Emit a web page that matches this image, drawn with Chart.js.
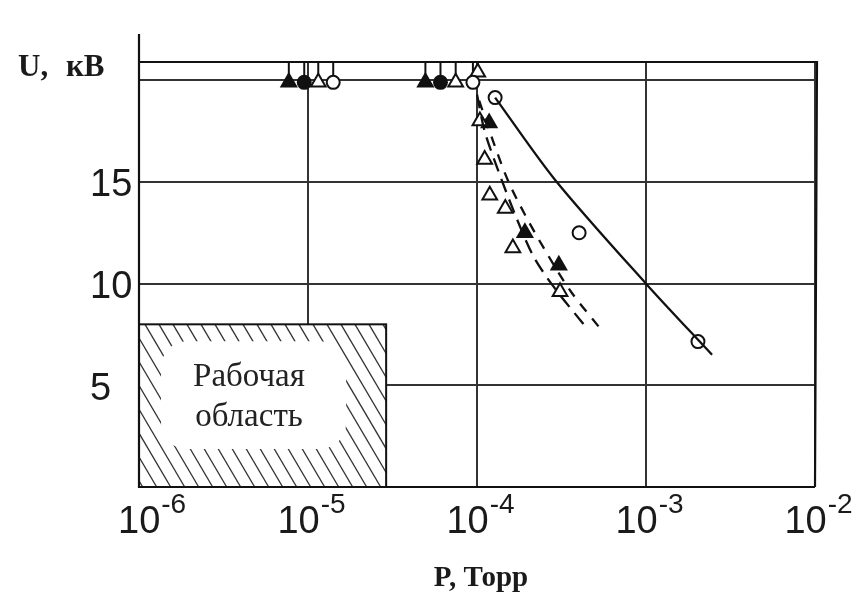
<!DOCTYPE html>
<html>
<head>
<meta charset="utf-8">
<script src="https://cdn.jsdelivr.net/npm/chart.js@4/dist/chart.umd.min.js"></script>
<style>
  html, body { margin: 0; padding: 0; background: #fff; }
  canvas { display: block; }
</style>
</head>
<body>
<canvas id="myChart" width="867" height="595"></canvas>
<script>
// breakdown voltage U (kV) against pressure P (Torr), four electrode sets
const filledTriangles = [[7.7e-6, 19.9], [4.95e-5, 19.9], [1.18e-4, 17.9], [1.92e-4, 12.5], [3.05e-4, 10.9]];
const filledCircles = [[9.5e-6, 19.9], [6.08e-5, 19.9]];
const openTriangles = [[1.15e-5, 19.9], [7.48e-5, 19.9], [1.01e-4, 20.4], [1.04e-4, 18.0], [1.11e-4, 16.1],
  [1.19e-4, 14.35], [1.47e-4, 13.7], [1.63e-4, 11.75], [3.1e-4, 9.6]];
const openCircles = [[1.41e-5, 19.9], [9.46e-5, 19.9], [1.28e-4, 19.15], [4.02e-4, 12.5], [2.03e-3, 7.15]];

// fitted curves
const solidCurve = [[1.28e-4, 19.15], [2.9e-4, 15.1], [1.0e-3, 10.0], [2.46e-3, 6.5]];
const dashedLeft = [[1.0e-4, 19.3], [1.11e-4, 17.5], [1.33e-4, 15.6], [1.68e-4, 13.4], [2.14e-4, 11.4], [2.81e-4, 9.9], [4.42e-4, 7.85]];
const dashedRight = [[1.03e-4, 19.0], [1.24e-4, 17.05], [1.52e-4, 15.1], [1.92e-4, 13.4], [2.63e-4, 11.4], [3.6e-4, 9.6], [5.35e-4, 7.8]];

const xTickPowers = [-6, -5, -4, -3, -2];
const yTickValues = [5, 10, 15];
const workArea = { pMin: 1e-6, pMax: 2.9e-5, uMin: 0, uMax: 8 };

const INK = '#111';
const GRID = '#333';
const tickFont = '"Liberation Sans Narrow", "Liberation Sans", sans-serif';

function markerSet(data, style, filled, radius) {
  return {
    data: data,
    showLine: false,
    marker: true,
    pointStyle: style,
    pointRadius: radius,
    pointHoverRadius: radius,
    pointBorderWidth: 2,
    pointBorderColor: INK,
    pointBackgroundColor: filled ? INK : '#fff'
  };
}

function curveSet(data, dash) {
  return {
    data: data,
    showLine: true,
    pointRadius: 0,
    borderColor: INK,
    borderWidth: 2.3,
    borderDash: dash,
    tension: 0.3,
    fill: false
  };
}

const decor = {
  id: 'decor',
  beforeDatasetsDraw(chart) {
    const { ctx, chartArea: a, scales: { x, y } } = chart;
    ctx.save();

    // short bars above points that did not break down
    ctx.strokeStyle = INK;
    ctx.lineWidth = 2;
    chart.data.datasets.forEach(ds => {
      if (!ds.marker) return;
      ds.data.forEach(([p, u]) => {
        if (u < 19.5) return;
        const px = x.getPixelForValue(p);
        ctx.beginPath();
        ctx.moveTo(px, a.top);
        ctx.lineTo(px, y.getPixelForValue(u));
        ctx.stroke();
      });
    });

    // hatched working region
    const bx0 = x.getPixelForValue(workArea.pMin);
    const bx1 = x.getPixelForValue(workArea.pMax);
    const by0 = y.getPixelForValue(workArea.uMax);
    const by1 = y.getPixelForValue(workArea.uMin);
    const bw = bx1 - bx0, bh = by1 - by0;
    ctx.fillStyle = '#fff';
    ctx.fillRect(bx0, by0, bw, bh);
    ctx.save();
    ctx.beginPath();
    ctx.rect(bx0, by0, bw, bh);
    ctx.clip();
    ctx.strokeStyle = '#333';
    ctx.lineWidth = 1.3;
    for (let s = bx0 - 120; s < bx1 + 10; s += 14) {
      ctx.beginPath();
      ctx.moveTo(s, by0);
      ctx.lineTo(s + bh / 1.7, by1);
      ctx.stroke();
    }
    ctx.restore();
    ctx.fillStyle = '#fff';
    ctx.beginPath();
    ctx.roundRect(bx0 + 22, by0 + 17, bw - 62, bh - 55, 26);
    ctx.fill();
    ctx.strokeStyle = INK;
    ctx.lineWidth = 2;
    ctx.strokeRect(bx0, by0, bw, bh);

    ctx.fillStyle = '#222';
    ctx.font = '33px "Liberation Serif", serif';
    ctx.textAlign = 'center';
    ctx.textBaseline = 'alphabetic';
    ctx.fillText('Рабочая', bx0 + 110, by0 + 62);
    ctx.fillText('область', bx0 + 110, by0 + 102);

    // frame
    ctx.strokeStyle = INK;
    ctx.lineWidth = 2.2;
    ctx.beginPath();
    ctx.moveTo(a.left, a.top - 28);
    ctx.lineTo(a.left, a.bottom);
    ctx.lineTo(a.right, a.bottom);
    ctx.moveTo(a.left, a.top);
    ctx.lineTo(a.right + 2, a.top);
    ctx.lineTo(a.right, a.bottom);
    ctx.stroke();
    ctx.restore();
  },
  afterDraw(chart) {
    const { ctx, chartArea: a, scales: { x, y } } = chart;
    ctx.save();
    ctx.fillStyle = '#1a1a1a';
    ctx.textBaseline = 'alphabetic';
    ctx.textAlign = 'left';

    // x tick labels 10^n
    xTickPowers.forEach((e, i) => {
      const px = x.getPixelForValue(Math.pow(10, e));
      ctx.font = '38px ' + tickFont;
      const base = '10';
      const w1 = ctx.measureText(base).width;
      ctx.font = '28px ' + tickFont;
      const sup = '-' + Math.abs(e);
      const w2 = ctx.measureText(sup).width;
      let start = px + 3 - (w1 + w2) / 2;
      if (i === 0) start = Math.max(start, a.left - 21);
      ctx.font = '38px ' + tickFont;
      ctx.fillText(base, start, a.bottom + 46);
      ctx.font = '28px ' + tickFont;
      ctx.fillText(sup, start + w1 + 1, a.bottom + 26);
    });

    // y tick labels
    ctx.font = '38px ' + tickFont;
    ctx.textBaseline = 'middle';
    yTickValues.forEach(v => {
      ctx.fillText(String(v), 90, y.getPixelForValue(v) + 4);
    });

    // axis titles
    ctx.textBaseline = 'alphabetic';
    ctx.font = 'bold 31px "Liberation Serif", serif';
    ctx.fillText('U,', 18, 76);
    ctx.fillText('кВ', 66, 76);
    ctx.textAlign = 'center';
    ctx.font = 'bold 29px "Liberation Serif", serif';
    ctx.fillText('P, Торр', 481, 586);
    ctx.restore();
  }
};

const data = {
  datasets: [
    curveSet(solidCurve, []),
    curveSet(dashedLeft, [14, 8]),
    curveSet(dashedRight, [10, 9]),
    markerSet(openCircles, 'circle', false, 6.5),
    markerSet(openTriangles, 'triangle', false, 8.5),
    markerSet(filledCircles, 'circle', true, 6.5),
    markerSet(filledTriangles, 'triangle', true, 8.5)
  ]
};

const isDecade = v => {
  const e = Math.log10(v);
  return Math.abs(e - Math.round(e)) < 1e-6;
};

const config = {
  type: 'scatter',
  data: data,
  options: {
    responsive: false,
    animation: false,
    layout: { padding: { left: 139, right: 52, top: 62, bottom: 108 } },
    plugins: { legend: { display: false }, tooltip: { enabled: false } },
    scales: {
      x: {
        type: 'logarithmic',
        min: 1e-6,
        max: 1e-2,
        border: { display: false },
        ticks: { display: false },
        grid: {
          drawTicks: false,
          lineWidth: 2,
          color: c => (c.tick && isDecade(c.tick.value)) ? GRID : 'rgba(0,0,0,0)'
        },
        afterFit: s => { s.height = 0; }
      },
      y: {
        min: 0,
        max: 20.9,
        border: { display: false },
        ticks: { display: false, stepSize: 5, includeBounds: false },
        grid: { drawTicks: false, lineWidth: 2, color: GRID },
        afterFit: s => { s.width = 0; }
      }
    }
  },
  plugins: [decor]
};

const myChart = new Chart(document.getElementById('myChart'), config);
</script>
</body>
</html>
